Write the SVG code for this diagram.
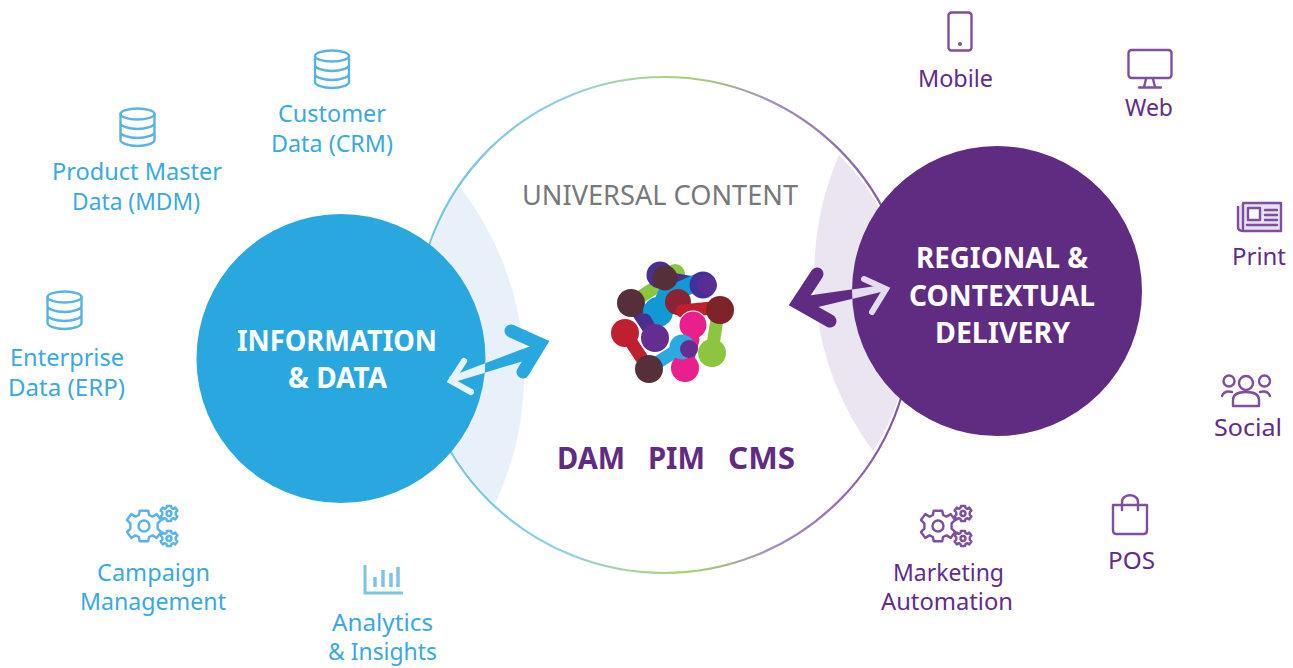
<svg xmlns="http://www.w3.org/2000/svg" width="1293" height="668" viewBox="0 0 1293 668">
<style>
text{font-family:"Noto Sans","Open Sans","Liberation Sans",sans-serif}
.b{fill:#3aa9e0;font-size:24px}
.p{fill:#612c8a;font-size:24px}
.h{fill:#fff;font-size:29px;font-weight:700}
.d{fill:#5f2c82;font-size:31px;font-weight:700}
.ib{fill:none;stroke:#58b4e4;stroke-width:2.4;stroke-linecap:round;stroke-linejoin:round}
.ip{fill:none;stroke:#7d4f9e;stroke-width:2.4;stroke-linecap:round;stroke-linejoin:round}
.ns{vector-effect:non-scaling-stroke}
.ln{fill:none;stroke-linecap:round;stroke-width:13}
</style>
<defs>
<linearGradient id="ring" x1="416" y1="0" x2="912" y2="0" gradientUnits="userSpaceOnUse">
<stop offset="0" stop-color="#6fc1e4"/><stop offset=".3" stop-color="#93cfe2"/><stop offset=".44" stop-color="#a9d3a0"/><stop offset=".56" stop-color="#a9cf70"/><stop offset=".72" stop-color="#a68fc2"/><stop offset="1" stop-color="#7d4f9e"/>
</linearGradient>
<clipPath id="cb"><circle cx="341" cy="358.500" r="144.500"/></clipPath>
<clipPath id="cp"><circle cx="997" cy="291" r="145"/></clipPath>
<g id="db">
<ellipse cx="0" cy="-13" rx="17" ry="5.500"/>
<path d="M-17-13V13C-17 16 -9 19 0 19S17 16 17 13V-13M-17-4C-17-1 -9 2 0 2S17-1 17-4M-17 5C-17 8 -9 11 0 11S17 8 17 5"/>
</g>
<path id="cog" class="ns" d="M-5-18H5L6-13 10-11 15-14 20-7 16-3V3L20 7 15 14 10 11 6 13 5 18H-5L-6 13-10 11-15 14-20 7-16 3V-3L-20-7-15-14-10-11-6-13Z"/>
<g id="gears">
<use href="#cog" transform="scale(.85)"/><circle r="5.500"/>
<use href="#cog" transform="translate(25,-12.500) scale(.42)"/><circle cx="25" cy="-12.500" r="2.500"/>
<use href="#cog" transform="translate(25,12.500) scale(.42)"/><circle cx="25" cy="12.500" r="2.500"/>
</g>
</defs>
<rect width="1293" height="668" fill="#fff"/>

<g id="universal-content">
<circle cx="664" cy="325" r="248" fill="#fff" stroke="url(#ring)" stroke-width="2.200"/>
<path d="M460 187A305 305 0 0 1 495 504A248 248 0 0 1 416 325A248 248 0 0 1 460 187Z" fill="#e8f1f9"/>
<path d="M839 155A297 297 0 0 0 873 451A248 248 0 0 0 912 325A248 248 0 0 0 839 155Z" fill="#ebe5f2"/>
<text x="522" y="205" fill="#77787b" font-size="27" textLength="276" lengthAdjust="spacingAndGlyphs">UNIVERSAL CONTENT</text>
<text class="d" x="557" y="469" textLength="68" lengthAdjust="spacingAndGlyphs">DAM</text>
<text class="d" x="648" y="469" textLength="57" lengthAdjust="spacingAndGlyphs">PIM</text>
<text class="d" x="728" y="469" textLength="67" lengthAdjust="spacingAndGlyphs">CMS</text>
</g>

<g id="logo">
<path class="ln" stroke="#8cc63f" d="M631 303L662 283M718 312L712 352"/>
<circle cx="675" cy="274" r="10" fill="#8cc63f"/>
<path class="ln" stroke="#4b2f8f" d="M665 278L705 285M632 303L655 338"/>
<path class="ln" stroke="#0f9ad6" style="stroke-width:17" d="M668 290L658 312M698 282L680 290"/>
<circle cx="660" cy="275" r="13.500" fill="#4b2f8f"/><circle cx="703" cy="285" r="13.500" fill="#43309a"/><circle cx="707" cy="285" r="10" fill="#5a2d95"/>
<circle cx="665" cy="278" r="12.500" fill="#55303a"/>
<circle cx="631" cy="303" r="14" fill="#55303a"/>
<circle cx="658" cy="312" r="15" fill="#0f9ad6"/>
<circle cx="678" cy="302" r="13" fill="#8a2434"/>
<path class="ln" stroke="#c01f2e" d="M682 311L712 308"/>
<circle cx="720" cy="310" r="14" fill="#7d2429"/>
<circle cx="693" cy="325" r="14.500" fill="#fff"/>
<circle cx="693" cy="325" r="13.500" fill="#e81f8c"/>
<path class="ln" stroke="#c01f2e" d="M625 333L649 369"/>
<path class="ln" stroke="#29abe2" d="M652 366L682 347"/>
<circle cx="625" cy="333" r="14" fill="#c01f2e"/>
<path class="ln" stroke="#4b2f8f" d="M645 320L655 338"/>
<circle cx="655" cy="338" r="14" fill="#662d91"/>
<circle cx="712" cy="353" r="14" fill="#8cc63f"/>
<path class="ln" stroke="#e81f8c" d="M685 368L693 340"/>
<circle cx="685" cy="368" r="14" fill="#e81f8c"/>
<circle cx="682" cy="347" r="12.500" fill="#29abe2"/>
<circle cx="689" cy="349" r="9" fill="#662d91"/>
<circle cx="649" cy="369" r="14" fill="#55303a"/>
</g>

<g id="connectors">
<path fill="#29a8e0" d="M449 377L451 383 540 356 536 344Z"/>
<path fill="none" stroke="#29a8e0" stroke-width="13" stroke-linecap="round" stroke-linejoin="miter" d="M511 331L540 344L523 372"/>
<path fill="#5f2c82" d="M798.500 297L801.500 311 885 291 883 285Z"/>
<path fill="none" stroke="#5f2c82" stroke-width="13" stroke-linecap="round" stroke-linejoin="miter" d="M817 274L798 303L830 321"/>
</g>

<g id="information-data">
<circle cx="341" cy="358.500" r="144.500" fill="#29a8e0"/>
<text class="h" x="237" y="351" textLength="200" lengthAdjust="spacingAndGlyphs">INFORMATION</text>
<text class="h" x="288" y="388" textLength="99" lengthAdjust="spacingAndGlyphs">&amp; DATA</text>
</g>
<g id="regional-delivery">
<circle cx="997" cy="291" r="145" fill="#5f2c82"/>
<text class="h" x="916" y="268" textLength="172" lengthAdjust="spacingAndGlyphs">REGIONAL &amp;</text>
<text class="h" x="909" y="306" textLength="186" lengthAdjust="spacingAndGlyphs">CONTEXTUAL</text>
<text class="h" x="935" y="343" textLength="135" lengthAdjust="spacingAndGlyphs">DELIVERY</text>
</g>
<g id="connector-ends" fill="none" stroke-linecap="round" stroke-linejoin="miter">
<g clip-path="url(#cb)" stroke="#e6f3fb">
<path fill="#e6f3fb" stroke="none" d="M449 377L451 383 540 356 536 344Z"/>
<path stroke-width="6" d="M464 361L451 381L471 392"/>
</g>
<g clip-path="url(#cp)" stroke="#e4dcee">
<path fill="#e4dcee" stroke="none" d="M798.500 297L801.500 311 885 291 883 285Z"/>
<path stroke-width="6" d="M864 279L886 289L872 312"/>
</g>
</g>

<g id="product-master">
<use href="#db" class="ib" transform="translate(137.500,127)"/>
<text class="b" x="52" y="180" textLength="170" lengthAdjust="spacingAndGlyphs">Product Master</text>
<text class="b" x="72" y="210" textLength="128" lengthAdjust="spacingAndGlyphs">Data (MDM)</text>
</g>
<g id="customer-data">
<use href="#db" class="ib" transform="translate(332,69)"/>
<text class="b" x="278" y="122" textLength="108" lengthAdjust="spacingAndGlyphs">Customer</text>
<text class="b" x="271" y="152" textLength="122" lengthAdjust="spacingAndGlyphs">Data (CRM)</text>
</g>
<g id="enterprise-data">
<use href="#db" class="ib" transform="translate(64.500,310)"/>
<text class="b" x="10" y="366" textLength="114" lengthAdjust="spacingAndGlyphs">Enterprise</text>
<text class="b" x="8" y="396" textLength="117" lengthAdjust="spacingAndGlyphs">Data (ERP)</text>
</g>
<g id="campaign-management">
<use href="#gears" class="ib" transform="translate(144,526)"/>
<text class="b" x="97" y="581" textLength="113" lengthAdjust="spacingAndGlyphs">Campaign</text>
<text class="b" x="80" y="610" textLength="146" lengthAdjust="spacingAndGlyphs">Management</text>
</g>
<g id="analytics-insights">
<path class="ib" style="stroke:#7dc3e8;stroke-width:3;stroke-linecap:butt;stroke-linejoin:miter" d="M365 565V593H403"/>
<path class="ib" style="stroke:#7dc3e8;stroke-width:3.500;stroke-linecap:butt" d="M375 577V587M383 570V587M391 573V587M398 567V587"/>
<text class="b" x="332" y="631" textLength="101" lengthAdjust="spacingAndGlyphs">Analytics</text>
<text class="b" x="328" y="660" textLength="109" lengthAdjust="spacingAndGlyphs">&amp; Insights</text>
</g>

<g id="mobile">
<rect class="ip" x="948.500" y="12.500" width="23" height="38" rx="3"/>
<circle cx="960" cy="44" r="2" fill="#7d4f9e"/>
<text class="p" x="918" y="87" textLength="75" lengthAdjust="spacingAndGlyphs">Mobile</text>
</g>
<g id="web">
<rect class="ip" x="1128.500" y="50" width="43" height="28" rx="3"/>
<path class="ip" d="M1146 79L1144 87M1153 79L1155 87M1139 87.500H1161"/>
<text class="p" x="1125" y="116" textLength="48" lengthAdjust="spacingAndGlyphs">Web</text>
</g>
<g id="print">
<path class="ip" style="fill:#e9e2f1" d="M1243 203H1281V231H1243C1240 231 1238 230 1238 227V207M1243 203V229"/>
<rect class="ip" style="fill:#fff" x="1248" y="208" width="12" height="12"/>
<path class="ip" d="M1265 210H1277M1265 215H1277M1265 220H1277M1247 225H1277"/>
<text class="p" x="1232" y="265" textLength="54" lengthAdjust="spacingAndGlyphs">Print</text>
</g>
<g id="social">
<circle class="ip" cx="1246" cy="383" r="7"/>
<circle class="ip" cx="1229" cy="381" r="5.500"/>
<circle class="ip" cx="1264.500" cy="381" r="5.500"/>
<path class="ip" d="M1233 406V400C1233 394 1238 392 1246 392S1259 394 1259 400V406ZM1222 396C1224 391 1228 391 1232 392M1270 396C1268 391 1264 391 1260 392"/>
<text class="p" x="1214" y="436" textLength="68" lengthAdjust="spacingAndGlyphs">Social</text>
</g>
<g id="pos">
<path class="ip" d="M1113 505H1147V530C1147 532 1146 534 1144 534H1116C1114 534 1113 532 1113 530ZM1122 510V502C1122 493 1138 493 1138 502V510"/>
<text class="p" x="1108" y="569" textLength="47" lengthAdjust="spacingAndGlyphs">POS</text>
</g>
<g id="marketing-automation">
<use href="#gears" class="ip" transform="translate(938,526)"/>
<text class="p" x="893" y="581" textLength="111" lengthAdjust="spacingAndGlyphs">Marketing</text>
<text class="p" x="881" y="610" textLength="132" lengthAdjust="spacingAndGlyphs">Automation</text>
</g>
</svg>
